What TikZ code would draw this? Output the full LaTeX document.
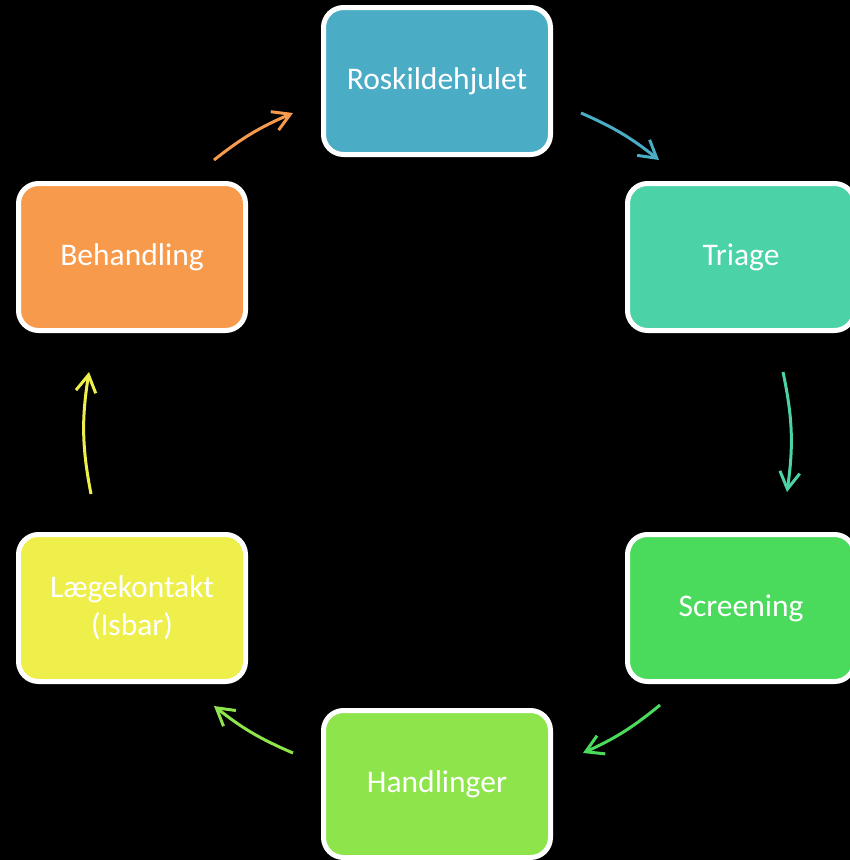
\documentclass[tikz,border=0pt]{standalone}
\usepackage{fontspec}
\setmainfont{Carlito}
\usetikzlibrary{arrows.meta}
\definecolor{rosc}{HTML}{4BACC6}
\definecolor{tric}{HTML}{4BD2A6}
\definecolor{scrc}{HTML}{4ADB5C}
\definecolor{hanc}{HTML}{8EE44B}
\definecolor{laec}{HTML}{EEEF4B}
\definecolor{behc}{HTML}{F79A4B}
\begin{document}
\begin{tikzpicture}[x=1pt,y=-1pt]
            \fill[black] (0,0) rectangle (850,860);
            \useasboundingbox (0,0) rectangle (850,860);
            \begin{scope}[every node/.style={draw=white,line width=5pt,rounded corners=20pt,
                    minimum width=227pt,minimum height=147pt,text=white,align=center,
                    font=\fontsize{31.5}{38}\selectfont}]
                \node[fill=rosc] (ros) at (437,81) {Roskildehjulet};
                \node[fill=tric] (tri) at (741,257) {Triage};
                \node[fill=scrc] (scr) at (741,608) {Screening};
                \node[fill=hanc] (han) at (437,784) {Handlinger};
                \node[fill=laec] (lae) at (132,608) {Lægekontakt\\(Isbar)};
                \node[fill=behc] (beh) at (132,257) {Behandling};
            \end{scope}
            \coordinate (a1) at (581,113);
            \coordinate (b1) at (659,160);
            \coordinate (a2) at (783,372);
            \coordinate (b2) at (787,492);
            \coordinate (a3) at (660,705);
            \coordinate (b3) at (583,753);
            \coordinate (a4) at (293,753);
            \coordinate (b4) at (214,706);
            \coordinate (a5) at (91,494);
            \coordinate (b5) at (89,372);
            \coordinate (a6) at (214,160);
            \coordinate (b6) at (293,113);
            \begin{scope}[every edge/.style={draw,line width=3pt,
                    -{Straight Barb[length=17pt,width=20pt]}}]
                \path (a1) edge[rosc,bend left=7.5] (b1);
                \path (a2) edge[tric,bend left=10] (b2);
                \path (a3) edge[scrc,bend left=7.5] (b3);
                \path (a4) edge[hanc,bend left=7.5] (b4);
                \path (a5) edge[laec,bend left=10] (b5);
                \path (a6) edge[behc,bend left=7.5] (b6);
            \end{scope}
        \end{tikzpicture}
\end{document}
